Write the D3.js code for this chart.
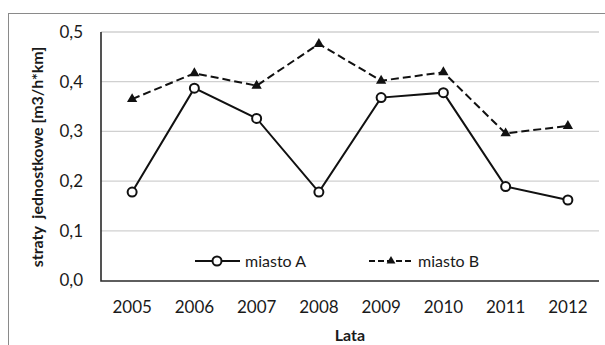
<!DOCTYPE html>
<html>
<head>
<meta charset="utf-8">
<script src="https://cdn.jsdelivr.net/npm/d3@7"></script>
<style>
  html, body { margin: 0; padding: 0; background: #ffffff; }
  svg { display: block; }
  text { font-family: Lato, "Open Sans", sans-serif; fill: #1a1a1a; }
</style>
</head>
<body>
<svg id="chart" width="605" height="345"></svg>
<script>
// Roczne straty jednostkowe wody w dwóch miastach
const years = ["2005", "2006", "2007", "2008", "2009", "2010", "2011", "2012"];
const miastoA = [0.178, 0.387, 0.326, 0.178, 0.368, 0.378, 0.189, 0.162];
const miastoB = [0.365, 0.417, 0.392, 0.476, 0.402, 0.419, 0.296, 0.311];
const yTicks = [0, 0.1, 0.2, 0.3, 0.4, 0.5];
const seriesNames = ["miasto A", "miasto B"];

const svg = d3.select("#chart");
const plot = { left: 101, right: 599, top: 32, bottom: 281 };

const pl = d3.formatLocale({ decimal: ",", thousands: " ", grouping: [3], currency: ["", " zł"] });
const fmt = pl.format(".1f");

const x = d3.scaleBand().domain(years).range([plot.left, plot.right]).padding(0);
const y = d3.scaleLinear().domain([0, 0.5]).range([plot.bottom - 0.5, plot.top]);
const cx = d => x(d) + x.bandwidth() / 2;

// outer frame (only the top and left edges fall inside the canvas)
svg.append("rect")
  .attr("x", 8.5).attr("y", 13.5).attr("width", 700).attr("height", 400)
  .attr("fill", "#ffffff").attr("stroke", "#8a8a8a").attr("stroke-width", 1);

// horizontal gridlines
svg.append("g").selectAll("line")
  .data(yTicks.filter(t => t > 0))
  .join("line")
  .attr("x1", plot.left).attr("x2", plot.right)
  .attr("y1", d => y(d)).attr("y2", d => y(d))
  .attr("stroke", "#d0d0d0").attr("stroke-width", 1.3);

// y axis
const yAxis = svg.append("g")
  .attr("transform", `translate(${plot.left},0)`)
  .call(d3.axisLeft(y).tickValues(yTicks).tickFormat(fmt).tickSize(0).tickPadding(18));
yAxis.select(".domain").remove();
yAxis.selectAll("text").attr("font-size", 17).attr("font-family", "Lato, sans-serif").attr("fill", "#1a1a1a");

// x axis
const xAxis = svg.append("g")
  .attr("transform", `translate(0,${plot.bottom})`)
  .call(d3.axisBottom(x).tickSize(0).tickPadding(20));
xAxis.select(".domain").remove();
xAxis.selectAll("text").attr("font-size", 17).attr("font-family", "Lato, sans-serif").attr("fill", "#1a1a1a");

// axis lines
svg.append("path")
  .attr("d", `M${plot.left},${plot.top}V${plot.bottom}H${plot.right}`)
  .attr("fill", "none").attr("stroke", "#2a2a2a").attr("stroke-width", 1.6);

// axis titles
svg.append("text")
  .attr("transform", `translate(43,157) rotate(-90)`)
  .attr("text-anchor", "middle")
  .attr("font-size", 16).attr("font-weight", "bold")
  .style("white-space", "pre")
  .text("straty  jednostkowe [m3/h*km]");

svg.append("text")
  .attr("x", (plot.left + plot.right) / 2).attr("y", 341)
  .attr("text-anchor", "middle")
  .attr("font-size", 16).attr("font-weight", "bold")
  .text("Lata");

const line = d3.line().x((d, i) => cx(years[i])).y(d => y(d));
const tri = d3.symbol().type(d3.symbolTriangle).size(46);

// miasto B — dashed line with filled triangles
svg.append("path").datum(miastoB)
  .attr("d", line).attr("fill", "none")
  .attr("stroke", "#111").attr("stroke-width", 2)
  .attr("stroke-dasharray", "8,4");
svg.append("g").selectAll("path")
  .data(miastoB).join("path")
  .attr("d", tri)
  .attr("transform", (d, i) => `translate(${cx(years[i])},${y(d)})`)
  .attr("fill", "#111");

// miasto A — solid line with hollow circles
svg.append("path").datum(miastoA)
  .attr("d", line).attr("fill", "none")
  .attr("stroke", "#111").attr("stroke-width", 2);
svg.append("g").selectAll("circle")
  .data(miastoA).join("circle")
  .attr("cx", (d, i) => cx(years[i])).attr("cy", d => y(d))
  .attr("r", 4.5)
  .attr("fill", "#ffffff").attr("stroke", "#111").attr("stroke-width", 2);

// legend
const ly = 261;
const legA = svg.append("g");
legA.append("line").attr("x1", 195).attr("x2", 240).attr("y1", ly).attr("y2", ly)
  .attr("stroke", "#111").attr("stroke-width", 2);
legA.append("circle").attr("cx", 217).attr("cy", ly).attr("r", 4.5)
  .attr("fill", "#fff").attr("stroke", "#111").attr("stroke-width", 2);
legA.append("text").attr("x", 245).attr("y", ly + 6).attr("font-size", 16).text(seriesNames[0]);

const legB = svg.append("g");
legB.append("line").attr("x1", 369).attr("x2", 414).attr("y1", ly).attr("y2", ly)
  .attr("stroke", "#111").attr("stroke-width", 2).attr("stroke-dasharray", "6,3");
legB.append("path").attr("d", d3.symbol().type(d3.symbolTriangle).size(34))
  .attr("transform", `translate(391,${ly})`).attr("fill", "#111");
legB.append("text").attr("x", 418).attr("y", ly + 6).attr("font-size", 16).text(seriesNames[1]);
</script>
</body>
</html>
